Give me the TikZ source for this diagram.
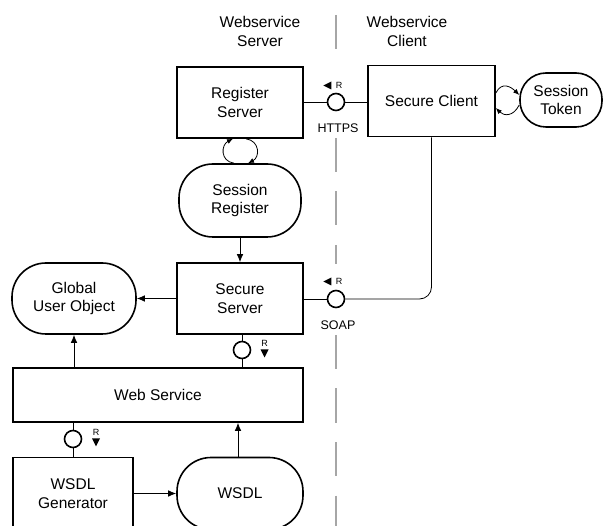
\documentclass[tikz,border=0pt]{standalone}
\usepackage{fontspec}
\setmainfont{Liberation Sans}
\usetikzlibrary{arrows.meta,shapes.geometric,positioning}

\newcommand{\boxfont}{\fontsize{15.5}{18.5}\selectfont}

\begin{document}
\begin{tikzpicture}[x=1pt,y=-1pt,>={Latex[length=8pt,width=6.5pt]},
every node/.style = {align=center, font=\boxfont},
block/.style={draw, line width=1.6pt, minimum width=126pt,
    minimum height=71pt, inner sep=0pt},
store/.style={block, rounded corners=34pt},
iface/.style={circle, draw, fill=white, line width=1.6pt,
    minimum size=17pt, inner sep=0pt},
conn/.style={line width=0.8pt},
loopy/.style={line width=0.8pt, -{Latex[length=6pt,width=5pt]}},
rtri/.style={isosceles triangle, isosceles triangle stretches, fill,
    inner sep=0pt, minimum height=8pt, minimum width=8pt},
rlab/.style={font=\fontsize{9}{10}\selectfont, inner sep=0pt},
proto/.style={font=\fontsize{12.5}{14}\selectfont},
divider/.style={draw=gray!70, line width=1.8pt, dash pattern=on 34pt off 19.5pt}]
\clip (0,0) rectangle (605,526);

% server / client split
\draw[divider] (336,15) -- (336,50);
\draw[divider] (336,138) -- (336,264);
\draw[divider] (336,335) -- (336,526);
\node (srvlab) at (260,31.5) {Webservice\\Server};
\node (clilab) at (407,31.5) {Webservice\\Client};

% components
\node[block] (regsrv) at (240,102.5) {Register\\Server};
\node[block, minimum width=127pt] (seccli) at (431.5,101) {Secure Client};
\node[store, minimum width=82pt, minimum height=54pt, rounded corners=26pt] (token) at (561,100) {Session\\Token};
\node[store, minimum width=122pt, minimum height=73pt] (sesreg) at (240,200.5) {Session\\Register};
\node[block] (secsrv) at (240,298.5) {Secure\\Server};
\node[store, minimum width=124pt] (guo) at (74,298.5) {Global\\User Object};
\node[block, minimum width=290pt, minimum height=54pt] (websrv) at (158,395) {Web Service};
\node[block, minimum width=120pt, minimum height=72pt] (wsdlgen) at (73,493.5) {WSDL\\Generator};
\node[store, minimum height=72pt] (wsdl) at (240,493.5) {WSDL};

% interfaces
\node[iface] (ifhttps) at (336,102) {};
\node[iface] (ifsoap) at (336,299) {};
\node[iface] (ifsec) at (242,350) {};
\node[iface] (ifgen) at (73,439) {};

\node[rtri, shape border rotate=180] (t1) at (329,85.5) {};
\node[rlab, right=4pt of t1] {R};
\node[proto] (https) at (338,128) {HTTPS};
\node[rtri, shape border rotate=180] (t2) at (329,281.5) {};
\node[rlab, right=4pt of t2] {R};
\node[proto] (soap) at (338,325) {SOAP};
\node[rlab] (r3) at (264.5,343) {R};
\node[rtri, shape border rotate=-90, below=3pt of r3] {};
\node[rlab] (r4) at (96,432) {R};
\node[rtri, shape border rotate=-90, below=3pt of r4] {};

% connectors
\draw[conn] (regsrv.east |- ifhttps) -- (ifhttps) -- (seccli.west |- ifhttps);
\draw[conn] (secsrv.east |- ifsoap) -- (ifsoap);
\draw[conn, rounded corners=12pt] (ifsoap) -| (seccli.south);
\draw[conn] (secsrv.south -| ifsec) -- (ifsec) -- (ifsec |- websrv.north);
\draw[conn] (websrv.south -| ifgen) -- (ifgen) -- (ifgen |- wsdlgen.north);
\draw[conn,->] (sesreg) -- (secsrv);
\draw[conn,->] (secsrv) -- (guo);
\draw[conn,->] (websrv.north -| guo.south) -- (guo.south);
\draw[conn,->] (wsdlgen) -- (wsdl);
\draw[conn,->] ([xshift=-2pt]wsdl.north) -- ([xshift=-2pt]wsdl.north |- websrv.south);

% session loops
\draw[loopy] ([xshift=-6pt]sesreg.north) .. controls +(-14,-2) and +(-12,6) .. ([xshift=-7pt]regsrv.south);
\draw[loopy] ([xshift=6pt]regsrv.south) .. controls +(14,2) and +(12,-6) .. ([xshift=8pt]sesreg.north);
\draw[loopy] ([yshift=8pt]seccli.east) .. controls +(6,-12) and +(-8,-8) .. ([yshift=5pt]token.west);
\draw[loopy] ([yshift=-5pt]token.west) .. controls +(-6,12) and +(8,8) .. ([yshift=-7pt]seccli.east);
\end{tikzpicture}
\end{document}
